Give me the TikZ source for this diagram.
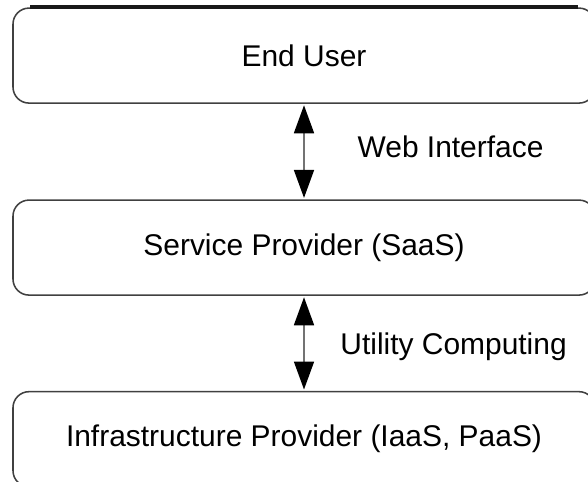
\documentclass[tikz,border=0pt]{standalone}
\usepackage{fontspec}
\setmainfont{Liberation Sans}
\usetikzlibrary{arrows.meta}
\tikzset{
  layer/.style={draw=black!75, line width=1.1pt, rounded corners=0.4cm,
    minimum width=14.55cm, minimum height=2.375cm, inner sep=0pt},
  link/.style={{Triangle[length=0.7cm,width=0.5cm,color=black]}-{Triangle[length=0.7cm,width=0.5cm,color=black]},
    draw=black!55, line width=1.2pt, shorten <=1pt, shorten >=1pt}
}
\begin{document}
\begin{tikzpicture}[line width=0.6pt,font=\fontsize{21.3}{26}\selectfont]
  \useasboundingbox (0,0) rectangle (14.7,12.05);
  \clip (0,0) rectangle (14.7,12.05);

  \node[layer] (user) at (7.6,10.66) {End User};
  \node[layer] (saas) at (7.6,5.86) {Service Provider (SaaS)};
  \node[layer] (infra) at (7.6,1.07) {Infrastructure Provider (IaaS, PaaS)};

  % heavier top edge
  \draw[black!90, line width=3pt] ([xshift=0.45cm]user.north west) -- ([xshift=-0.45cm]user.north east);

  \draw[link] (user.south) -- (saas.north);
  \draw[link] (saas.south) -- (infra.north);

  \node[anchor=west, inner sep=0pt] (web) at (8.93,8.38) {Web Interface};
  \node[anchor=west, inner sep=0pt] (util) at (8.5,3.38) {Utility Computing};
\end{tikzpicture}
\end{document}
